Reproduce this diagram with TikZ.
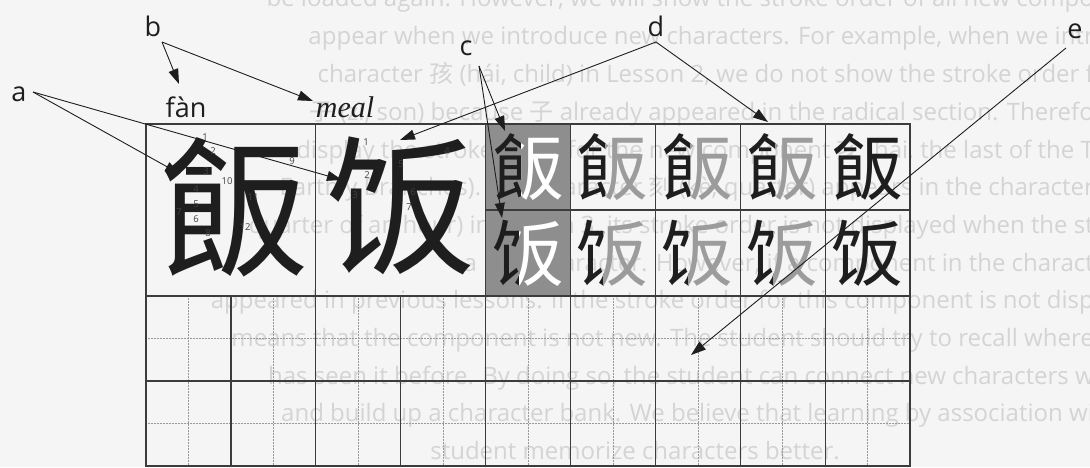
\documentclass[tikz,border=0pt]{standalone}
\usepackage{fontspec}
\setmainfont{Open Sans}
\newfontfamily\labelfont{Open Sans}
\newfontfamily\pinyinfont{Noto Sans}
\newfontfamily\mealfont{Liberation Serif}
\newfontfamily\cjktc{Noto Sans CJK TC}
\newfontfamily\cjksc{Noto Sans CJK SC}
\usetikzlibrary{arrows.meta}
\definecolor{bg}{HTML}{F5F5F5}
\definecolor{ghost}{HTML}{D4D4D4}
\definecolor{gridc}{HTML}{3C3C3C}
\definecolor{cellgray}{HTML}{8E8E8E}
\definecolor{tracec}{HTML}{9C9C9C}
\definecolor{ink}{HTML}{1E1E1E}
\definecolor{dotc}{HTML}{9A9A9A}
\newcommand\twotone[8]{%
  \begin{scope}
    \clip (#2-60,#3-60) rectangle (#2+#8,#3+60);
    \node[smallchar,text=#6] (#1l) at (#2,#3) {#4#5};
  \end{scope}
  \begin{scope}
    \clip (#2+#8,#3-60) rectangle (#2+60,#3+60);
    \node[smallchar,text=#7] (#1r) at (#2,#3) {#4#5};
  \end{scope}}
\begin{document}
\begin{tikzpicture}[x=1pt,y=-1pt,
  lab/.style={font=\fontsize{27}{27}\selectfont\labelfont, inner sep=0pt, text=ink, anchor=base},
  ptr/.style={draw=ink, line width=0.9pt, -{Triangle[length=15pt,width=10pt]}},
  num/.style={font=\fontsize{9.5}{9.5}\selectfont\labelfont, inner sep=0pt, text=ink!85},
  ghosttext/.style={font=\fontsize{24}{24}\selectfont, text=ghost, anchor=base east, inner sep=0pt},
  solidgrid/.style={draw=gridc, line width=1.2pt},
  dotgrid/.style={draw=dotc, line width=0.5pt, densely dotted},
  bigchar/.style={font=\fontsize{150}{150}\selectfont, inner sep=0pt, text=ink},
  smallchar/.style={font=\fontsize{72}{72}\selectfont, inner sep=0pt},
]
\useasboundingbox (0,0) rectangle (1090,467);
\fill[bg] (0,0) rectangle (1090,467);
% faint page text behind the figure
\begin{scope}
\clip (0,0) rectangle (1090,467);
\node[ghosttext] (g1) at (1094,6) {be loaded again. However, we will show the stroke order of all new compo};
\node[ghosttext] (g2) at (1094,44) {appear when we introduce new characters. For example, when we intr};
\node[ghosttext] (g3) at (1094,82) {character {\cjktc 孩} (hái, child) in Lesson 2, we do not show the stroke order f};
\node[ghosttext] (g4) at (1094,120) {{\cjktc 子} (z{\pinyinfont ǐ}, son) because {\cjktc 子} already appeared in the radical section. Therefo};
\node[ghosttext] (g5) at (1094,158) {display the stroke order for the new component {\cjktc 亥} (hài, the last of the T};
\node[ghosttext] (g6) at (1094,195) {Earthly Branches). The character {\cjktc 刻} (kè, quarter) appears in the character};
\node[ghosttext] (g7) at (1094,233) {quarter of an hour) in Lesson 3, its stroke order is not displayed when the st};
\node[ghosttext] (g8) at (1094,271) {a new character. However, if a component in the charact};
\node[ghosttext] (g9) at (1094,308) {appeared in previous lessons. If the stroke order for this component is not disp};
\node[ghosttext] (g10) at (1094,346) {means that the component is not new. The student should try to recall where};
\node[ghosttext] (g11) at (1094,384) {has seen it before. By doing so, the student can connect new characters w};
\node[ghosttext] (g12) at (1094,421) {and build up a character bank. We believe that learning by association wi};
\node[ghosttext] (g13) at (840,459) {student memorize characters better.};
\end{scope}
% gray cells
\fill[cellgray] (485.6,124) rectangle (570.4,296);
% big characters
\node[bigchar] (big1) at (234,207) {\cjktc 飯};
\node[bigchar] (big2) at (401,206) {\cjksc 饭};
% small characters
\twotone{t1}{528}{167}{\cjktc}{飯}{ink}{white}{-7}
\twotone{t2}{612.9}{167}{\cjktc}{飯}{ink}{tracec}{-7}
\twotone{t3}{697.8}{167}{\cjktc}{飯}{ink}{tracec}{-7}
\twotone{t4}{782.7}{167}{\cjktc}{飯}{ink}{tracec}{-7}
\node[smallchar,text=ink] (t5) at (867.6,167) {\cjktc 飯};
\twotone{u1}{528}{253}{\cjksc}{饭}{ink}{white}{-9}
\twotone{u2}{612.9}{253}{\cjksc}{饭}{ink}{tracec}{-9}
\twotone{u3}{697.8}{253}{\cjksc}{饭}{ink}{tracec}{-9}
\twotone{u4}{782.7}{253}{\cjksc}{饭}{ink}{tracec}{-9}
\node[smallchar,text=ink] (u5) at (867.6,253) {\cjksc 饭};
% stroke numbers, first character
\node[num] (n1) at (205,137) {1};
\node[num] (n2) at (213,151) {2};
\node[num] (n3) at (206,171) {3};
\node[num] (n4) at (196,189) {4};
\node[num] (n5) at (196,204) {5};
\node[num] (n6) at (196,219) {6};
\node[num] (n7) at (179,212) {7};
\node[num] (n8) at (208,233) {8};
\node[num] (n9) at (292,161) {9};
\node[num] (n10) at (227,181) {10};
\node[num] (n11) at (253,197) {11};
\node[num] (n12) at (245,227) {12};
% stroke numbers, second character
\node[num] (m1) at (366,142) {1};
\node[num] (m2) at (367,175) {2};
\node[num] (m3) at (355,195) {3};
\node[num] (m4) at (447,151) {4};
\node[num] (m5) at (401,164) {5};
\node[num] (m6) at (413,192) {6};
\node[num] (m7) at (409,207) {7};
% dotted guide lines in the practice rows
\foreach \x in {188.4,273.3,358.2,443.1,528.0,612.9,697.8,782.7,867.6}
  \draw[dotgrid] (\x,296) -- (\x,466);
\foreach \y in {338.5,423.5}
  \draw[dotgrid] (146,\y) -- (910,\y);
% solid grid
\draw[solidgrid] (146,124) rectangle (910,466);
\draw[solidgrid] (146,296) -- (910,296);
\draw[solidgrid] (146,381) -- (910,381);
\draw[solidgrid] (485.6,210) -- (910,210);
\foreach \x in {315.8,485.6,570.4,655.3,740.2,825.1}
  \draw[solidgrid] (\x,124) -- (\x,466);
\foreach \x in {230.9,400.7}
  \draw[solidgrid] (\x,296) -- (\x,466);
% labels
\node[lab] (la) at (19,101) {a};
\node[lab] (lb) at (153,36) {b};
\node[lab] (lc) at (466,55) {c};
\node[lab] (ld) at (656,36) {d};
\node[lab] (le) at (1075,38) {e};
\node[lab] (fan) at (186,117) {fàn};
\node[lab,font=\fontsize{30}{30}\selectfont\mealfont\itshape] (meal) at (345,117) {meal};
% connector anchor points and targets
\coordinate (aa) at (33,92);
\coordinate (bb) at (162,42);
\coordinate (cc) at (479,66);
\coordinate (dd) at (656,42);
\coordinate (ee) at (1066,48);
\coordinate (ta1) at (180,174);
\coordinate (ta2) at (342,180);
\coordinate (tb1) at (179,84);
\coordinate (tb2) at (313,101);
\coordinate (tc1) at (505,131);
\coordinate (tc2) at (502,218);
\coordinate (td1) at (400,140);
\coordinate (td2) at (768,122);
\coordinate (te1) at (691,355);
\draw[ptr] (aa) -- (ta1);
\draw[ptr] (aa) -- (ta2);
\draw[ptr] (bb) -- (tb1);
\draw[ptr] (bb) -- (tb2);
\draw[ptr] (cc) -- (tc1);
\draw[ptr] (cc) -- (tc2);
\draw[ptr] (dd) -- (td1);
\draw[ptr] (dd) -- (td2);
\draw[ptr] (ee) -- (te1);
\end{tikzpicture}
\end{document}
